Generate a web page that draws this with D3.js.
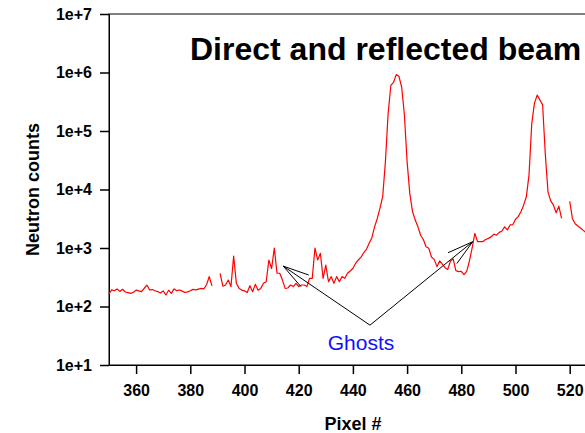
<!DOCTYPE html>
<html>
<head>
<meta charset="utf-8">
<script src="https://cdn.jsdelivr.net/npm/d3@7"></script>
<style>
  html,body{margin:0;padding:0;background:#fff;}
  svg{display:block;}
  .axis text{font-family:"Liberation Sans",Arial,sans-serif;font-weight:bold;font-size:16px;fill:#000;}
  .axis path,.axis line{stroke:#000;}
</style>
</head>
<body>
<div id="chart"></div>
<script>
// ── data: neutron counts per detector pixel (null = no reading) ──
const pixelStart = 350;
const counts = [
  164,192,186,199,181,197,177,173,168,175,          // 350-359
  190,185,180,205,232,192,195,186,180,170,          // 360-369
  185,157,190,168,200,186,192,183,174,178,          // 370-379
  186,196,192,198,204,200,235,325,225,null,         // 380-389
  null,370,222,233,283,219,725,249,204,191,         // 390-399
  185,174,227,179,239,190,204,250,265,620,          // 400-409
  447,1000,370,370,283,204,207,233,219,249,         // 410-419
  219,233,233,219,303,303,1000,624,812,303,         // 420-429
  510,265,324,249,324,265,324,303,370,404,          // 430-439
  447,548,624,700,830,950,1200,1500,2300,3200,      // 440-449
  4800,7600,30000,200000,600000,680000,920000,860000,560000,190000, // 450-459
  30000,8500,4200,3000,2300,1650,1400,1050,990,700, // 460-469
  640,480,600,530,460,430,600,650,410,395,          // 470-479
  400,350,400,600,1000,1780,1290,1290,1290,1400,    // 480-489
  1460,1550,1720,1660,1850,1950,2300,2040,2480,2500, // 490-499
  3100,3440,4170,5400,7500,18000,135000,300000,410000,340000, // 500-509
  280000,40000,9000,6400,5400,4000,5200,3200,null,null, // 510-519
  6300,3200,2600,2380,2200,2000,1850,1800            // 520-527
];
const xTicks = [360,380,400,420,440,460,480,500,520];
const yTicks = [1e1,1e2,1e3,1e4,1e5,1e6,1e7];
const yTickLabels = ["1e+1","1e+2","1e+3","1e+4","1e+5","1e+6","1e+7"];
// annotation anchors (pixel #, counts)
const ghostOrigin = [446.3, 48];
const ghostTips = [[414.3, 490],[484.2, 1280]];
const ghostLabel = {pix:443, cnt:18, text:"Ghosts"};

const W=585, H=433;
const MG={t:14,l:109,b:68};
const xSc=d3.scaleLinear().domain([350,530]).range([MG.l, MG.l+180*2.71]);
const ySc=d3.scaleLog().domain([10,1e7]).range([H-MG.b, MG.t]);

const svg=d3.select("#chart").append("svg").attr("width",W).attr("height",H);
const FONT='"Liberation Sans",Arial,sans-serif';

// frame (right edge falls outside the window)
svg.append("rect").attr("x",xSc(350)).attr("y",ySc(1e7))
  .attr("width",xSc(530)-xSc(350)).attr("height",ySc(10)-ySc(1e7))
  .attr("fill","none").attr("stroke","#000").attr("stroke-width",1);

// axes
svg.append("g").attr("class","axis").attr("transform",`translate(0,${ySc(10)})`)
  .call(d3.axisBottom(xSc).tickValues(xTicks).tickSize(9).tickPadding(11).tickSizeOuter(0))
  .call(g=>g.selectAll(".tick line").attr("stroke-width",1.5));
svg.append("g").attr("class","axis").attr("transform",`translate(${xSc(350)},0)`)
  .call(d3.axisLeft(ySc).tickValues(yTicks).tickSize(9).tickPadding(8).tickSizeOuter(0)
    .tickFormat((d,i)=>yTickLabels[i]))
  .call(g=>g.selectAll(".tick line").attr("stroke-width",1.5));

// axis titles
svg.append("text").attr("x",(xSc(350)+xSc(530))/2).attr("y",430)
  .attr("text-anchor","middle").attr("font-family",FONT).attr("font-weight","bold")
  .attr("font-size",18).text("Pixel #");
svg.append("text").attr("transform",`translate(39,${(ySc(10)+ySc(1e7))/2}) rotate(-90)`)
  .attr("text-anchor","middle").attr("font-family",FONT).attr("font-weight","bold")
  .attr("font-size",18).text("Neutron counts");

// title
svg.append("text").attr("x",190).attr("y",60).attr("font-family",FONT)
  .attr("font-weight","bold").attr("font-size",32).attr("fill","#000")
  .text("Direct and reflected beam");

// data line
const pts=counts.map((c,i)=>({x:pixelStart+i,y:c}));
const line=d3.line().defined(d=>d.y!=null).x(d=>xSc(d.x)).y(d=>ySc(d.y));
svg.append("path").datum(pts).attr("d",line)
  .attr("fill","none").attr("stroke","#ff0000").attr("stroke-width",1.2)
  .attr("stroke-linejoin","round");

// ghost arrows
const ox=xSc(ghostOrigin[0]), oy=ySc(ghostOrigin[1]);
ghostTips.forEach(([px,pc])=>{
  const tx=xSc(px), ty=ySc(pc);
  svg.append("line").attr("x1",ox).attr("y1",oy).attr("x2",tx).attr("y2",ty)
    .attr("stroke","#000").attr("stroke-width",1);
  const ang=Math.atan2(oy-ty,ox-tx), len=27, spread=15*Math.PI/180;
  [ang-spread,ang+spread].forEach(a=>{
    svg.append("line").attr("x1",tx).attr("y1",ty)
      .attr("x2",tx+len*Math.cos(a)).attr("y2",ty+len*Math.sin(a))
      .attr("stroke","#000").attr("stroke-width",1);
  });
});
svg.append("text").attr("x",xSc(ghostLabel.pix)).attr("y",ySc(ghostLabel.cnt))
  .attr("text-anchor","middle").attr("font-family",FONT).attr("font-size",21)
  .attr("fill","#1010ff").text(ghostLabel.text);
</script>
</body>
</html>
